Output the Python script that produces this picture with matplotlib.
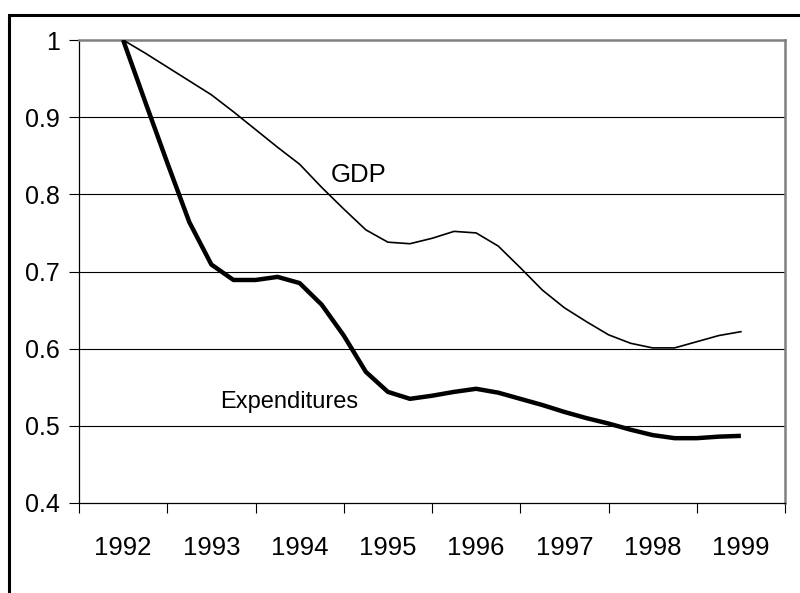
import matplotlib.pyplot as plt
from matplotlib.patches import Rectangle
import numpy as np

plt.rcParams["font.family"] = ["Liberation Sans", "DejaVu Sans"]

# quarterly readings, 1992 Q1 .. 1999 Q1
quarters = np.arange(29) / 4 + 1992
gdp = [1.000, 0.983, 0.965, 0.947, 0.929, 0.907, 0.884, 0.861, 0.839,
       0.809, 0.781, 0.754, 0.738, 0.736, 0.743, 0.752, 0.750, 0.733,
       0.705, 0.676, 0.653, 0.635, 0.618, 0.607, 0.601, 0.601, 0.609,
       0.617, 0.622]
expenditures = [1.000, 0.920, 0.841, 0.764, 0.709, 0.689, 0.689, 0.693, 0.685,
                0.657, 0.617, 0.570, 0.544, 0.535, 0.539, 0.544, 0.548, 0.543,
                0.535, 0.527, 0.518, 0.510, 0.503, 0.495, 0.488, 0.484, 0.484,
                0.486, 0.487]
years = [1992, 1993, 1994, 1995, 1996, 1997, 1998, 1999]
yticks = [0.4, 0.5, 0.6, 0.7, 0.8, 0.9, 1.0]
ylabels = ["0.4", "0.5", "0.6", "0.7", "0.8", "0.9", "1"]

fig = plt.figure(figsize=(8, 5.93), dpi=100)
ax = fig.add_axes([79 / 800, 1 - 503 / 593, (785 - 79) / 800, (503 - 40) / 593])

# outer chart frame (cut off at right and bottom)
fig.patches.append(Rectangle((9 / 800, -0.1), 1.2, 1 - 15 / 593 + 0.1,
                             transform=fig.transFigure, fill=False,
                             edgecolor="black", linewidth=2.2))

for v in yticks[1:-1]:
    ax.axhline(v, color="black", linewidth=0.8, zorder=1)

ax.plot(quarters, gdp, color="black", linewidth=1.2, zorder=3,
        solid_joinstyle="round")
ax.plot(quarters, expenditures, color="black", linewidth=3.2, zorder=3,
        solid_capstyle="butt", solid_joinstyle="round")

ax.text(1994.67, 0.825, "GDP", fontsize=18.5, ha="center", va="center")
ax.text(1993.88, 0.531, "Expenditures", fontsize=17, ha="center", va="center")

ax.set_xlim(1991.5, 1999.5)
ax.set_ylim(0.4, 1.0)
ax.set_yticks(yticks)
ax.set_yticklabels(ylabels)
ax.set_xticks(np.arange(1991.5, 1999.6, 1))
ax.set_xticklabels([])
ax.set_xticks(years, minor=True)
ax.set_xticklabels([str(y) for y in years], minor=True)
ax.tick_params(axis="x", which="major", direction="out", length=7, width=0.8)
ax.tick_params(axis="x", which="minor", length=0, pad=24, labelsize=18.5)
ax.tick_params(axis="y", direction="out", length=7, width=0.8, pad=7, labelsize=18)

for s in ["top", "right"]:
    ax.spines[s].set_color("#808080")
    ax.spines[s].set_linewidth(1.8)
ax.spines["left"].set_color("black")
ax.spines["bottom"].set_color("black")
ax.spines["left"].set_linewidth(0.9)
ax.spines["bottom"].set_linewidth(0.9)

fig.savefig("out.png", dpi=100)
